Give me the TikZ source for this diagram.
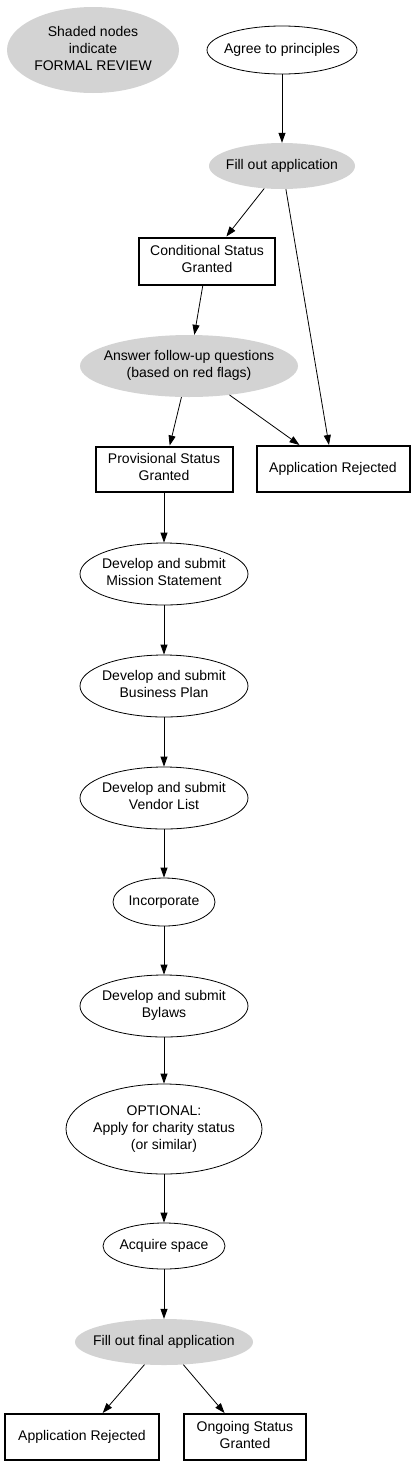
\documentclass[tikz,border=0pt]{standalone}
\usepackage{fontspec}
\setmainfont{Liberation Sans}
\usepackage{xcolor}
\usepackage{tikz}
\usetikzlibrary{arrows.meta,shapes.geometric}
\definecolor{reviewgray}{HTML}{D3D3D3}
\newcommand{\lbl}[1]{\makebox[0pt]{\begin{tabular}{@{}c@{}}#1\end{tabular}}}

\begin{document}
\begin{tikzpicture}[
  x=1pt,y=-1pt,
  every node/.style={font=\fontsize{14}{17}\selectfont,inner sep=0pt},
  stage/.style={ellipse,draw=black,line width=0.8pt,fill=white},
  review/.style={ellipse,fill=reviewgray},
  status/.style={rectangle,draw=black,line width=2pt,fill=white},
  arr/.style={-{Triangle[length=10pt,width=7pt]},line width=0.8pt,color=black}
]
  \useasboundingbox (0,0) rectangle (417,1467);
  \node[review,minimum width=172pt,minimum height=86pt] (legend) at (93,50) {\lbl{Shaded nodes\\indicate\\FORMAL REVIEW}};
  \node[stage,minimum width=150pt,minimum height=48pt] (agree) at (282,50) {\lbl{Agree to principles}};
  \node[review,minimum width=146pt,minimum height=46pt] (fillapp) at (282,166) {\lbl{Fill out application}};
  \node[status,minimum width=136pt,minimum height=47pt] (cond) at (207,261) {\lbl{Conditional Status\\Granted}};
  \node[review,minimum width=218pt,minimum height=62pt] (answer) at (189,366) {\lbl{Answer follow-up questions\\(based on red flags)}};
  \node[status,minimum width=137pt,minimum height=45pt] (prov) at (164,469) {\lbl{Provisional Status\\Granted}};
  \node[status,minimum width=153pt,minimum height=46pt] (reject) at (333,469) {\lbl{Application Rejected}};
  \node[stage,minimum width=168pt,minimum height=62pt] (mission) at (164,574) {\lbl{Develop and submit\\Mission Statement}};
  \node[stage,minimum width=168pt,minimum height=62pt] (business) at (164,686) {\lbl{Develop and submit\\Business Plan}};
  \node[stage,minimum width=168pt,minimum height=62pt] (vendor) at (164,798) {\lbl{Develop and submit\\Vendor List}};
  \node[stage,minimum width=102pt,minimum height=48pt] (incorp) at (164,902) {\lbl{Incorporate}};
  \node[stage,minimum width=168pt,minimum height=62pt] (bylaws) at (164,1006) {\lbl{Develop and submit\\Bylaws}};
  \node[stage,minimum width=196pt,minimum height=90pt] (charity) at (164,1129) {\lbl{OPTIONAL:\\Apply for charity status\\(or similar)}};
  \node[stage,minimum width=122pt,minimum height=46pt] (space) at (164,1246) {\lbl{Acquire space}};
  \node[review,minimum width=178pt,minimum height=46pt] (final) at (164,1342) {\lbl{Fill out final application}};
  \node[status,minimum width=154pt,minimum height=46pt] (finalreject) at (82,1437) {\lbl{Application Rejected}};
  \node[status,minimum width=122pt,minimum height=46pt] (ongoing) at (245,1437) {\lbl{Ongoing Status\\Granted}};
  \draw[arr] (agree)--(fillapp);
  \draw[arr] (fillapp)--(cond);
  \draw[arr] (fillapp)--(reject);
  \draw[arr] (cond)--(answer);
  \draw[arr] (answer)--(prov);
  \draw[arr] (answer)--(reject);
  \draw[arr] (prov)--(mission);
  \draw[arr] (mission)--(business);
  \draw[arr] (business)--(vendor);
  \draw[arr] (vendor)--(incorp);
  \draw[arr] (incorp)--(bylaws);
  \draw[arr] (bylaws)--(charity);
  \draw[arr] (charity)--(space);
  \draw[arr] (space)--(final);
  \draw[arr] (final)--(finalreject);
  \draw[arr] (final)--(ongoing);
\end{tikzpicture}
\end{document}
